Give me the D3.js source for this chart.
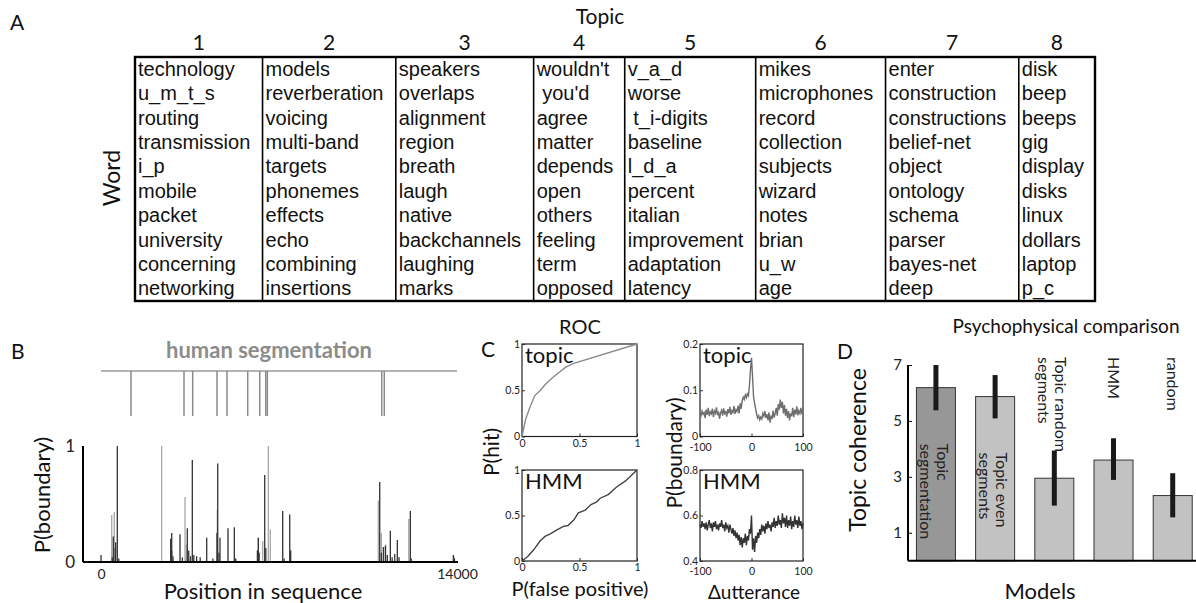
<!DOCTYPE html>
<html><head><meta charset="utf-8">
<script src="https://cdn.jsdelivr.net/npm/d3@7"></script>
<style>
body{margin:0;background:#fff;}
svg{display:block;}
</style></head><body>
<svg id="c" width="1196" height="603"></svg>
<script>
// ---------------- DATA ----------------
const topicNumbers = ["1","2","3","4","5","6","7","8"];
const topicWords = [
  ["technology","u_m_t_s","routing","transmission","i_p","mobile","packet","university","concerning","networking"],
  ["models","reverberation","voicing","multi-band","targets","phonemes","effects","echo","combining","insertions"],
  ["speakers","overlaps","alignment","region","breath","laugh","native","backchannels","laughing","marks"],
  ["wouldn't"," you'd","agree","matter","depends","open","others","feeling","term","opposed"],
  ["v_a_d","worse"," t_i-digits","baseline","l_d_a","percent","italian","improvement","adaptation","latency"],
  ["mikes","microphones","record","collection","subjects","wizard","notes","brian","u_w","age"],
  ["enter","construction","constructions","belief-net","object","ontology","schema","parser","bayes-net","deep"],
  ["disk","beep","beeps","gig","display","disks","linux","dollars","laptop","p_c"]
];

// Panel B: P(boundary) spikes [position, value]
const boundaryDark = [[0,0.06],[440,0.04],[484,0.22],[560,0.12],[578,0.17],[641,1.0],[700,0.03],
  [2740,0.2],[2780,0.25],[2830,0.05],[3107,0.24],[3200,0.04],[3394,0.29],[3450,0.1],[3520,0.05],[3591,0.88],
  [3650,0.06],[3760,0.05],[3900,0.04],[4157,0.21],[4400,0.03],[4560,0.25],[4590,0.85],[4640,0.08],[4680,0.21],
  [4995,0.29],[5243,0.3],[5300,0.03],[6150,0.1],[6187,0.21],[6220,0.08],[6438,0.75],[6480,0.12],[7146,0.44],
  [7200,0.03],[7422,0.41],[7460,0.1],[10961,0.69],[11025,0.08],[11103,0.13],[11182,0.14],[11260,0.06],
  [11378,0.27],[11450,0.04],[11551,0.07],[11653,0.19],[11720,0.04],[12165,0.44],[12200,0.03],[13856,0.06],[13900,0.03]];
const boundaryLight = [[421,0.405],[523,0.43],[2387,1.0],[2800,0.1],[3304,0.56],[3350,0.15],[4574,0.45],
  [5270,0.03],[6187,0.21],[6360,0.18],[6580,1.0],[6659,0.28],[10906,0.53],[11025,0.25],[11200,0.15],[12102,0.37],[13880,0.05]];
const humanBoundaries = [1180,3264,3606,4562,4956,5770,6242,6478,6541,11040,11140];
const positionTicks = [0,14000];

// Panel C: ROC curves [P(false positive), P(hit)]
const rocTopic = [[0,0],[0.03,0.18],[0.07,0.32],[0.11,0.44],[0.16,0.5],[0.2,0.56],[0.27,0.64],[0.33,0.7],[0.38,0.75],[0.45,0.79],[1,1]];
const rocHMM = [[0,0],[0.05,0.05],[0.1,0.12],[0.157,0.22],[0.2,0.27],[0.25,0.3],[0.3,0.34],[0.36,0.38],[0.4,0.39],[0.45,0.45],
  [0.49,0.53],[0.55,0.56],[0.6,0.62],[0.65,0.65],[0.68,0.69],[0.75,0.73],[0.82,0.81],[0.9,0.88],[1,1]];
const rocTicks = [0,0.5,1];

// Panel C: P(boundary) vs Δutterance (−100..100, step 2)
const deltaUtterance = d3.range(-100, 101, 2);
const pbTopic = [0.050,0.045,0.055,0.048,0.052,0.040,0.058,0.047,0.062,0.044,0.053,0.049,0.060,0.042,0.055,0.050,
  0.063,0.046,0.054,0.038,0.051,0.057,0.045,0.061,0.048,0.055,0.043,0.059,0.050,0.064,0.047,0.056,0.052,0.066,0.049,
  0.058,0.054,0.067,0.050,0.072,0.060,0.078,0.085,0.080,0.090,0.084,0.092,0.088,0.110,0.145,0.170,0.130,0.085,0.072,
  0.060,0.048,0.040,0.045,0.036,0.042,0.038,0.050,0.044,0.055,0.040,0.048,0.035,0.052,0.030,0.045,0.038,0.056,0.041,
  0.050,0.062,0.045,0.070,0.058,0.080,0.062,0.075,0.050,0.068,0.045,0.060,0.040,0.055,0.035,0.050,0.044,0.062,0.042,
  0.058,0.048,0.065,0.046,0.056,0.050,0.062,0.048,0.058];
const pbHMM = [0.560,0.545,0.575,0.550,0.565,0.540,0.570,0.535,0.560,0.580,0.545,0.565,0.530,0.570,0.550,0.575,0.540,
  0.560,0.535,0.565,0.550,0.580,0.545,0.560,0.530,0.570,0.545,0.555,0.525,0.560,0.540,0.520,0.545,0.510,0.535,0.500,
  0.525,0.490,0.515,0.470,0.505,0.460,0.500,0.480,0.520,0.470,0.510,0.490,0.540,0.520,0.600,0.450,0.500,0.440,0.510,
  0.480,0.525,0.500,0.540,0.515,0.560,0.530,0.555,0.520,0.565,0.540,0.575,0.545,0.560,0.530,0.570,0.550,0.590,0.545,
  0.575,0.555,0.600,0.560,0.580,0.545,0.610,0.565,0.590,0.550,0.600,0.545,0.580,0.555,0.595,0.540,0.575,0.550,0.600,
  0.560,0.580,0.545,0.595,0.555,0.575,0.540,0.565];
const deltaTicks = [-100,0,100];
const pbTopicTicks = [0,0.1,0.2];
const pbHMMTicks = [0.4,0.6,0.8];

// Panel D
const models = ["Topic segmentation","Topic even segments","Topic random segments","HMM","random"];
const modelLabelLines = [["Topic","segmentation"],["Topic even","segments"],["Topic random","segments"],["HMM"],["random"]];
const labelInside = [true,true,false,false,false];
const coherence = [6.19,5.87,2.95,3.6,2.33];
const coherenceLow = [5.38,5.09,1.97,2.89,1.55];
const coherenceHigh = [7.0,6.64,3.94,4.38,3.13];
const coherenceTicks = [1,3,5,7];

// ---------------- DRAW ----------------
const SANS = "Lato, 'Open Sans', sans-serif";
const ARIAL = "'Liberation Sans', Arial, sans-serif";
const svg = d3.select("#c");

function label(x, y, s, o = {}) {
  const t = svg.append("text").attr("x", x).attr("y", y).text(s)
    .attr("font-family", o.family || SANS).attr("font-size", o.size || 20)
    .attr("fill", o.fill || "#111").attr("text-anchor", o.anchor || "start");
  if (o.weight) t.attr("font-weight", o.weight);
  if (o.rotate) t.attr("transform", `rotate(${o.rotate},${x},${y})`);
  return t;
}

// ===== Panel A =====
label(10, 30, "A", {size: 21});
label(600, 24, "Topic", {size: 21, anchor: "middle"});
label(120, 178, "Word", {size: 23, anchor: "middle", rotate: -90});

const tableLeft = 135, tableRight = 1095, tableTop = 57, tableBottom = 301, pad = 12;
const meas = svg.append("text").attr("font-family", ARIAL).attr("font-size", 20).style("white-space", "pre");
const colW = topicWords.map(ws => d3.max(ws, w => { meas.text(w); return meas.node().getComputedTextLength(); }) + pad);
meas.remove();
const cum = [0];
colW.forEach(w => cum.push(cum[cum.length - 1] + w));
const colScale = d3.scaleLinear().domain([0, cum[cum.length - 1]]).range([tableLeft, tableRight]);
const rowScale = d3.scaleBand().domain(d3.range(10)).range([tableTop, tableBottom]);

const gA = svg.append("g");
topicWords.forEach((ws, i) => {
  gA.selectAll(null).data(ws).enter().append("text")
    .attr("x", colScale(cum[i]) + 3)
    .attr("y", (d, j) => rowScale(j) + rowScale.bandwidth() * 0.77)
    .attr("font-family", ARIAL).attr("font-size", 20).attr("fill", "#111")
    .style("white-space", "pre").text(d => d);
});
gA.selectAll(null).data(topicNumbers).enter().append("text")
  .attr("x", (d, i) => colScale((cum[i] + cum[i + 1]) / 2))
  .attr("y", 50).attr("text-anchor", "middle")
  .attr("font-family", SANS).attr("font-size", 21).attr("fill", "#111").text(d => d);
gA.selectAll(null).data(d3.range(1, topicWords.length)).enter().append("line")
  .attr("x1", i => colScale(cum[i])).attr("x2", i => colScale(cum[i]))
  .attr("y1", tableTop).attr("y2", tableBottom).attr("stroke", "#000").attr("stroke-width", 1.6);
gA.append("rect").attr("x", tableLeft).attr("y", tableTop)
  .attr("width", tableRight - tableLeft).attr("height", tableBottom - tableTop)
  .attr("fill", "none").attr("stroke", "#000").attr("stroke-width", 2.4);

// ===== Panel B =====
label(11, 359, "B", {size: 21});
label(269, 358, "human segmentation", {size: 22, anchor: "middle", weight: "bold", fill: "#8c8c8c"});
const xB = d3.scaleLinear().domain([0, 14000]).range([101, 457]);
const yB = d3.scaleLinear().domain([0, 1]).range([562, 446]);
const gB = svg.append("g");
gB.append("line").attr("x1", xB(0)).attr("x2", xB(14000)).attr("y1", 371).attr("y2", 371)
  .attr("stroke", "#9a9a9a").attr("stroke-width", 1.5);
gB.selectAll(null).data(humanBoundaries).enter().append("line")
  .attr("x1", d => xB(d)).attr("x2", d => xB(d)).attr("y1", 371).attr("y2", 416)
  .attr("stroke", "#8a8a8a").attr("stroke-width", 1.5);
gB.selectAll(null).data(boundaryLight).enter().append("line")
  .attr("x1", d => xB(d[0])).attr("x2", d => xB(d[0])).attr("y1", yB(0)).attr("y2", d => yB(d[1]))
  .attr("stroke", "#a8a8a8").attr("stroke-width", 1.3);
gB.selectAll(null).data(boundaryDark).enter().append("line")
  .attr("x1", d => xB(d[0])).attr("x2", d => xB(d[0])).attr("y1", yB(0)).attr("y2", d => yB(d[1]))
  .attr("stroke", "#333").attr("stroke-width", 1.3);
gB.append("line").attr("x1", 83).attr("x2", 458).attr("y1", yB(0)).attr("y2", yB(0)).attr("stroke", "#000").attr("stroke-width", 2.2);
gB.append("line").attr("x1", 83).attr("x2", 83).attr("y1", yB(0)).attr("y2", yB(1)).attr("stroke", "#000").attr("stroke-width", 2);
const axB = gB.append("g").attr("transform", `translate(0,${yB(0) + 4})`)
  .call(d3.axisBottom(xB).tickValues(positionTicks).tickSize(0).tickFormat(d3.format("d")));
axB.select(".domain").remove();
axB.selectAll("text").attr("font-family", SANS).attr("font-size", 14).attr("fill", "#222");
const ayB = gB.append("g").attr("transform", `translate(78,0)`)
  .call(d3.axisLeft(yB).tickValues([0, 1]).tickSize(0).tickFormat(d3.format("d")));
ayB.select(".domain").remove();
ayB.selectAll("text").attr("font-family", SANS).attr("font-size", 17).attr("fill", "#222");
label(50, 495, "P(boundary)", {size: 22, anchor: "middle", rotate: -90});
label(263, 599, "Position in sequence", {size: 22, anchor: "middle"});

// ===== Panel C =====
label(481, 357, "C", {size: 21});
label(580, 334, "ROC", {size: 20, anchor: "middle"});
const xR = d3.scaleLinear().domain([0, 1]).range([522, 637]);
const xD = d3.scaleLinear().domain([-100, 100]).range([700, 803]);
const yTop = [344, 436.5], yBot = [470, 561];
const yRT = d3.scaleLinear().domain([0, 1]).range([yTop[1], yTop[0]]);
const yRB = d3.scaleLinear().domain([0, 1]).range([yBot[1], yBot[0]]);
const yDT = d3.scaleLinear().domain([0, 0.2]).range([yTop[1], yTop[0]]);
const yDB = d3.scaleLinear().domain([0.4, 0.8]).range([yBot[1], yBot[0]]);

function subplot(xs, ys, xt, yt, data, color, name, xPad) {
  const g = svg.append("g");
  const [x0, x1] = xs.range(), [y0, y1] = [ys.range()[1], ys.range()[0]];
  const ax = g.append("g").attr("transform", `translate(0,${y1})`)
    .call(d3.axisBottom(xs).tickValues(xt).tickSizeInner(-3).tickSizeOuter(0).tickPadding(xPad).tickFormat(d => String(d)));
  const ay = g.append("g").attr("transform", `translate(${x0},0)`)
    .call(d3.axisLeft(ys).tickValues(yt).tickSizeInner(-3).tickSizeOuter(0).tickPadding(2).tickFormat(d => String(d)));
  [ax, ay].forEach(a => {
    a.select(".domain").remove();
    a.selectAll("text").attr("font-family", SANS).attr("font-size", 10.5).attr("fill", "#222");
    a.selectAll("line").attr("stroke", "#333");
  });
  g.append("rect").attr("x", x0).attr("y", y0).attr("width", x1 - x0).attr("height", y1 - y0)
    .attr("fill", "none").attr("stroke", "#222").attr("stroke-width", 1.2);
  g.append("path").datum(data)
    .attr("d", d3.line().x(d => xs(d[0])).y(d => ys(d[1])))
    .attr("fill", "none").attr("stroke", color).attr("stroke-width", 1.4);
  g.append("text").attr("x", x0 + 3).attr("y", y0 + 19).text(name)
    .attr("font-family", SANS).attr("font-size", 22).attr("fill", "#111");
}
subplot(xR, yRT, rocTicks, rocTicks, rocTopic, "#8a8a8a", "topic", 3);
subplot(xR, yRB, rocTicks, rocTicks, rocHMM, "#444", "HMM", 3);
subplot(xD, yDT, deltaTicks, pbTopicTicks, deltaUtterance.map((d, i) => [d, pbTopic[i]]), "#6e6e6e", "topic", 7);
subplot(xD, yDB, deltaTicks, pbHMMTicks, deltaUtterance.map((d, i) => [d, pbHMM[i]]), "#333", "HMM", 7);
label(499, 452, "P(hit)", {size: 21, anchor: "middle", rotate: -90});
label(682, 453, "P(boundary)", {size: 21, anchor: "middle", rotate: -90});
label(580, 596, "P(false positive)", {size: 20, anchor: "middle"});
label(754, 599, "\u0394utterance", {size: 19, anchor: "middle"});

// ===== Panel D =====
label(837, 359, "D", {size: 21});
label(1066, 333, "Psychophysical comparison", {size: 19, anchor: "middle"});
const yC = d3.scaleLinear().domain([0, 7]).range([560.7, 365]);
const xC = d3.scaleBand().domain(models).range([908, 1196]).paddingInner(0.341).paddingOuter(0.103).align(0.69);
const gD = svg.append("g");
gD.selectAll(null).data(models).enter().append("rect")
  .attr("x", d => xC(d)).attr("width", xC.bandwidth())
  .attr("y", (d, i) => yC(coherence[i])).attr("height", (d, i) => yC(0) - yC(coherence[i]))
  .attr("fill", (d, i) => i === 0 ? "#979797" : "#c2c2c2").attr("stroke", "#333").attr("stroke-width", 1);
gD.selectAll(null).data(models).enter().append("line")
  .attr("x1", d => xC(d) + xC.bandwidth() / 2).attr("x2", d => xC(d) + xC.bandwidth() / 2)
  .attr("y1", (d, i) => yC(coherenceLow[i])).attr("y2", (d, i) => yC(coherenceHigh[i]))
  .attr("stroke", "#1a1a1a").attr("stroke-width", 5);
gD.append("line").attr("x1", 908).attr("x2", 1196).attr("y1", yC(0)).attr("y2", yC(0)).attr("stroke", "#000").attr("stroke-width", 2);
gD.append("line").attr("x1", 908).attr("x2", 908).attr("y1", yC(0)).attr("y2", yC(7)).attr("stroke", "#000").attr("stroke-width", 2);
const ayD = gD.append("g").attr("transform", "translate(908,0)")
  .call(d3.axisLeft(yC).tickValues(coherenceTicks).tickSizeInner(-4).tickSizeOuter(0).tickPadding(6).tickFormat(d3.format("d")));
ayD.select(".domain").remove();
ayD.selectAll("text").attr("font-family", SANS).attr("font-size", 15).attr("fill", "#222");
ayD.selectAll("line").attr("stroke", "#000");
models.forEach((m, i) => {
  const cx = xC(m) + xC.bandwidth() / 2;
  const lines = modelLabelLines[i];
  const y0 = labelInside[i] ? yC(coherence[i]) + 56 : yC(7) - 8;
  lines.forEach((s, k) => {
    const bx = lines.length === 1 ? cx - 6 : cx + 1 - 17 * k;
    gD.append("text").attr("x", bx).attr("y", y0).text(s)
      .attr("transform", `rotate(90,${bx},${y0})`)
      .attr("font-family", SANS).attr("font-size", 16).attr("fill", "#222");
  });
});
label(866, 450, "Topic coherence", {size: 23, anchor: "middle", rotate: -90});
label(1040, 599, "Models", {size: 22, anchor: "middle"});
</script>
</body></html>
